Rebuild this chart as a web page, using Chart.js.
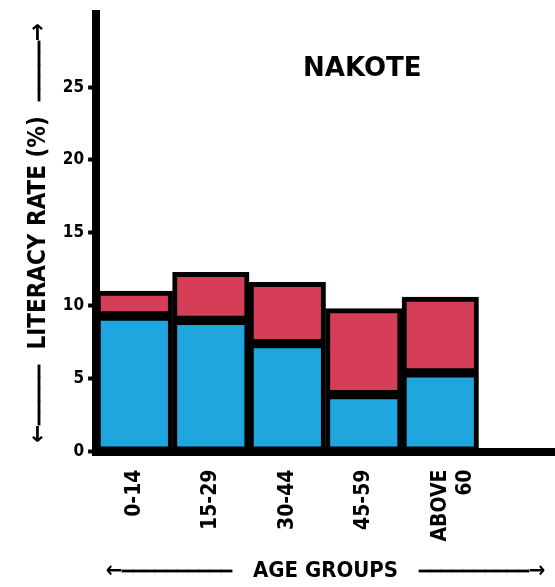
<!DOCTYPE html>
<html lang="en">
<head>
    <meta charset="UTF-8">
    <title>Nakote - Literacy Rate by Age Group</title>
    <script src="https://cdn.jsdelivr.net/npm/chart.js"></script>
    <style>
        html, body { margin: 0; padding: 0; background: #fff; }
        #grafico-container { width: 555px; height: 587px; }
    </style>
</head>
<body>
    <div id="grafico-container">
        <canvas id="graficoNakote"></canvas>
    </div>

    <script>
        // dados
        const categories = ['0-14', '15-29', '30-44', '45-59', ['ABOVE', '60'], ''];
        const blueValues = [9.3, 9.0, 7.4, 3.9, 5.4];
        const redValues = [1.7, 3.3, 4.2, 5.9, 5.2];
        const yTicks = [0, 5, 10, 15, 20, 25];
        const chartTitle = 'NAKOTE';

        const fonte = "'DejaVu Sans Condensed', 'DejaVu Sans', sans-serif";
        const traco = (n) => '\u23AF'.repeat(n);

        // escreve o nome dentro da area do grafico
        const tituloInterno = {
            id: 'tituloInterno',
            afterDraw(chart) {
                const ctx = chart.ctx;
                const area = chart.chartArea;
                ctx.save();
                ctx.font = "bold 26px 'DejaVu Sans', sans-serif";
                ctx.fillStyle = '#000';
                ctx.textAlign = 'center';
                ctx.textBaseline = 'middle';
                ctx.fillText(chartTitle, area.left + (area.right - area.left) * 0.58, area.top + 55);
                ctx.restore();
            }
        };

        const ctx = document.getElementById('graficoNakote').getContext('2d');
        new Chart(ctx, {
            type: 'bar',
            data: {
                labels: categories,
                datasets: [
                    {
                        label: 'Blue',
                        data: blueValues,
                        backgroundColor: '#1fa6df',
                        borderColor: '#000',
                        borderWidth: 5,
                        borderSkipped: false
                    },
                    {
                        label: 'Red',
                        data: redValues,
                        backgroundColor: '#d63d57',
                        borderColor: '#000',
                        borderWidth: 5,
                        borderSkipped: false
                    }
                ]
            },
            options: {
                responsive: true,
                maintainAspectRatio: false,
                animation: false,
                layout: { padding: { left: 24, top: 10, right: 0, bottom: 3 } },
                datasets: {
                    bar: { barPercentage: 1, categoryPercentage: 1 }
                },
                plugins: {
                    legend: { display: false },
                    tooltip: { enabled: false }
                },
                scales: {
                    x: {
                        stacked: true,
                        grid: { display: false },
                        border: { color: '#000', width: 8 },
                        ticks: {
                            color: '#000',
                            maxRotation: 90,
                            minRotation: 90,
                            padding: 10,
                            font: { family: fonte, size: 21, weight: 'bold' }
                        },
                        title: {
                            display: true,
                            text: '\u2190' + traco(10) + '   AGE GROUPS   ' + traco(10) + '\u2192',
                            color: '#000',
                            padding: { top: 6, bottom: 0 },
                            font: { family: fonte, size: 22, weight: 'bold' }
                        }
                    },
                    y: {
                        stacked: true,
                        min: 0,
                        max: 30,
                        afterBuildTicks: function (axis) {
                            axis.ticks = yTicks.map(v => ({ value: v }));
                        },
                        grid: {
                            drawOnChartArea: false,
                            drawTicks: true,
                            tickLength: 8,
                            tickWidth: 4,
                            color: '#000'
                        },
                        border: { color: '#000', width: 8 },
                        ticks: {
                            color: '#000',
                            padding: 4,
                            font: { family: fonte, size: 17, weight: 'bold' }
                        },
                        title: {
                            display: true,
                            text: '\u2190' + traco(5) + '  LITERACY RATE (%)  ' + traco(5) + '\u2192',
                            color: '#000',
                            padding: { top: 0, bottom: 6 },
                            font: { family: fonte, size: 24, weight: 'bold' }
                        }
                    }
                }
            },
            plugins: [tituloInterno]
        });
    </script>
</body>
</html>
